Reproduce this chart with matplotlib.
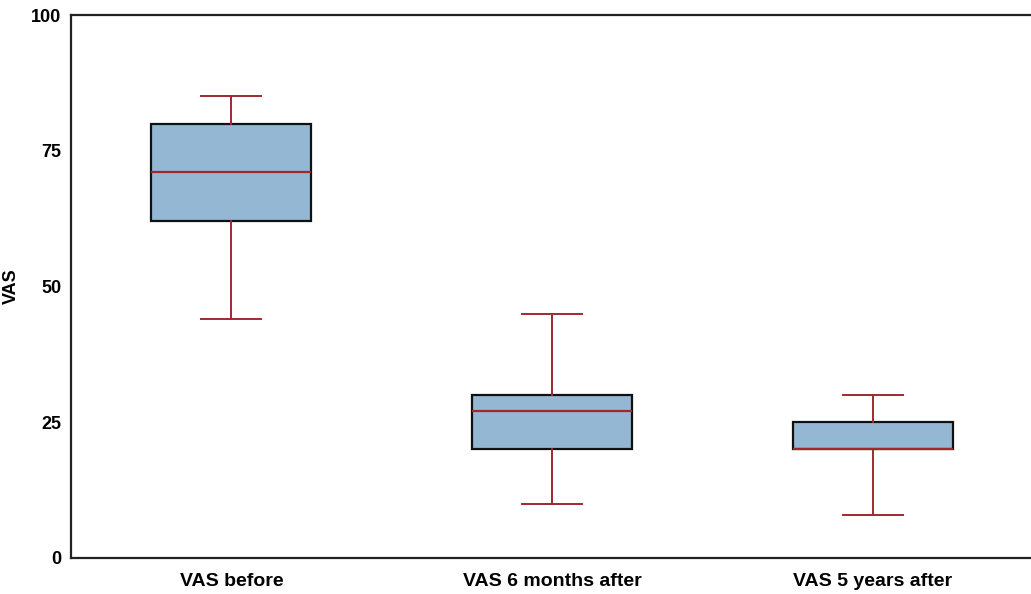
import matplotlib
matplotlib.use("Agg")
import matplotlib.pyplot as plt

categories = ["VAS before", "VAS 6 months after", "VAS 5 years after"]
whislo = [44, 10, 8]
q1 = [62, 20, 20]
med = [71, 27, 20]
q3 = [80, 30, 25]
whishi = [85, 45, 30]
yticks = [0, 25, 50, 75, 100]

plt.rcParams['font.family'] = ['Liberation Sans', 'DejaVu Sans']

fig = plt.figure(figsize=(10.31, 5.94), dpi=100)
ax = fig.add_axes([71/1031, 1-558/594, 962/1031, (558-15)/594])

stats = []
for i, c in enumerate(categories):
    stats.append(dict(label=c, whislo=whislo[i], q1=q1[i], med=med[i],
                      q3=q3[i], whishi=whishi[i], fliers=[]))

ax.bxp(stats, positions=[1, 2, 3], widths=0.5, patch_artist=True,
       showfliers=False,
       boxprops=dict(facecolor='#94b8d3', edgecolor='#111111', linewidth=1.6),
       whiskerprops=dict(color='#9c2b2e', linewidth=1.4),
       capprops=dict(color='#9c2b2e', linewidth=1.4),
       medianprops=dict(color='#a3262b', linewidth=1.6),
       capwidths=0.1875)

ax.set_xlim(0.5, 3.5)
ax.set_ylim(0, 100)
ax.set_yticks(yticks)
ax.set_yticklabels([str(v) for v in yticks])
ax.tick_params(axis='both', length=0)
ax.tick_params(axis='y', pad=7, labelsize=13)
ax.tick_params(axis='x', pad=11, labelsize=14)
for lab in ax.get_xticklabels() + ax.get_yticklabels():
    lab.set_fontweight('bold')
ax.set_ylabel("VAS", fontsize=13, fontweight='bold')
ax.yaxis.set_label_coords((20 - 71) / 962, 0.5)
for s in ['left', 'bottom', 'top']:
    ax.spines[s].set_linewidth(1.6)
    ax.spines[s].set_color('#222222')
ax.spines['right'].set_visible(False)

fig.savefig("out.png", dpi=100)
